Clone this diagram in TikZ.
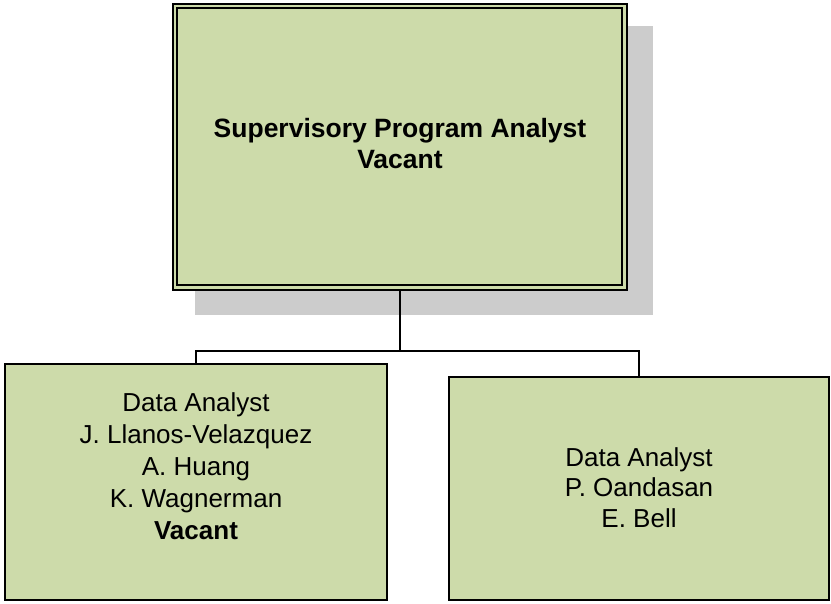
\documentclass[tikz,border=0pt]{standalone}
\usepackage{fontspec}
\setmainfont{Liberation Sans}
\definecolor{boxgreen}{RGB}{205,219,170}
\definecolor{shadowgray}{RGB}{204,204,204}
\begin{document}
\begin{tikzpicture}[x=1pt,y=-1pt,
  box/.style={draw=black,line width=2pt,fill=boxgreen,inner sep=0pt,outer sep=0pt},
  txt/.style={inner sep=0pt,outer sep=0pt,align=center,anchor=north,
    font=\fontsize{26}{31.5}\selectfont},
  link/.style={draw=black,line width=2pt}]
\useasboundingbox (0,0) rectangle (831,604);
% shadow of top box
\fill[shadowgray] (195,26) rectangle (653,315);
% top box
\node[box,minimum width=454pt,minimum height=286pt] (top) at (400,147) {};
\draw[line width=1.8pt] ([shift={(4,4)}]top.north west) rectangle ([shift={(-5,-5)}]top.south east);
\node[txt,font=\fontsize{26.5}{31.5}\selectfont\bfseries] (toptext) at (400,117.8)
  {Supervisory Program Analyst\\Vacant};
% lower boxes
\node[box,minimum width=382pt,minimum height=236pt] (lbox) at (196,482) {};
\node[box,minimum width=380pt,minimum height=223pt] (rbox) at (639,488.5) {};
\node[txt,font=\fontsize{26}{32}\selectfont] (ltext) at (196,392.4)
  {Data Analyst\\J. Llanos-Velazquez\\A. Huang\\K. Wagnerman\\\textbf{Vacant}};
\node[txt,font=\fontsize{26}{30.5}\selectfont] (rtext) at (639,447.4)
  {Data Analyst\\P. Oandasan\\E. Bell};
% connectors
\coordinate (bus) at (400,351);
\draw[link] (top.south) -- (bus);
\draw[link] (lbox.north) |- (bus) -| (rbox.north);
\end{tikzpicture}
\end{document}
